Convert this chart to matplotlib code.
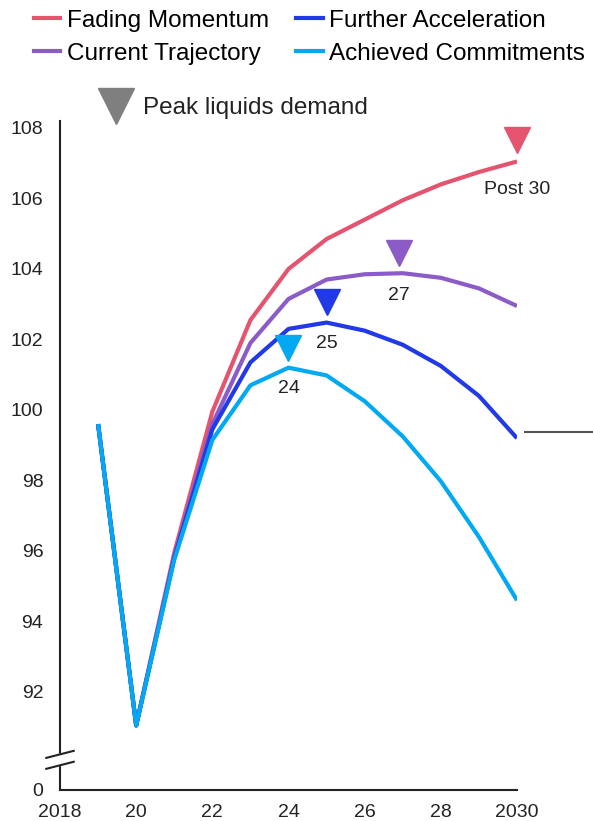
import matplotlib
matplotlib.use("Agg")
from matplotlib import pyplot as plt
from matplotlib.lines import Line2D

plt.rcParams["font.family"] = ["Liberation Sans", "DejaVu Sans"]

years = [2019, 2020, 2021, 2022, 2023, 2024, 2025, 2026, 2027, 2028, 2029, 2030]
fading_momentum = [99.6, 91.05, 95.95, 99.95, 102.55, 104.0, 104.85, 105.4, 105.95, 106.4, 106.75, 107.05]
current_trajectory = [99.6, 91.05, 95.85, 99.6, 101.9, 103.15, 103.7, 103.85, 103.88, 103.75, 103.45, 102.95]
further_acceleration = [99.6, 91.05, 95.8, 99.45, 101.35, 102.3, 102.48, 102.25, 101.85, 101.25, 100.4, 99.2]
achieved_commitments = [99.6, 91.05, 95.75, 99.15, 100.7, 101.2, 100.98, 100.25, 99.25, 97.98, 96.4, 94.6]

series_names = ["Fading Momentum", "Current Trajectory", "Further Acceleration", "Achieved Commitments"]
series_values = [fading_momentum, current_trajectory, further_acceleration, achieved_commitments]
colors = ["#E5546E", "#8B5BC8", "#2139E6", "#00A9F2"]

# peak markers: (year, marker level, label, label level)
peak_years = [2030, 2026.9, 2025, 2024]
peak_levels = [107.65, 104.45, 103.05, 101.75]
peak_labels = ["Post 30", "27", "25", "24"]
peak_label_levels = [106.25, 103.25, 101.9, 100.6]

y_bottom = 89.22
y_ticks = [y_bottom, 92, 94, 96, 98, 100, 102, 104, 106, 108]
y_tick_labels = ["0", "92", "94", "96", "98", "100", "102", "104", "106", "108"]
x_ticks = [2018, 2020, 2022, 2024, 2026, 2028, 2030]
x_tick_labels = ["2018", "20", "22", "24", "26", "28", "2030"]

fig = plt.figure(figsize=(5.93, 8.21), dpi=100)
ax = fig.add_axes([0.1012, 0.0378, 0.7706, 0.8149])

for name, values, color in zip(series_names, series_values, colors):
    ax.plot(years, values, color=color, linewidth=3, label=name, solid_capstyle="butt")

for year, level, label, label_level, color in zip(peak_years, peak_levels, peak_labels, peak_label_levels, colors):
    ax.plot(year, level, marker="v", markersize=19, color=color, linestyle="none", clip_on=False)
    ax.text(year, label_level, label, ha="center", va="center", fontsize=14, color="#222222")

ax.set_xlim(2018, 2030)
ax.set_ylim(y_bottom, 108.2)
ax.set_yticks(y_ticks)
ax.set_yticklabels(y_tick_labels)
ax.set_xticks(x_ticks)
ax.set_xticklabels(x_tick_labels)
ax.tick_params(length=0, labelsize=14, colors="#222222")
ax.tick_params(axis="y", pad=12)
ax.tick_params(axis="x", pad=10)
for side in ["top", "right"]:
    ax.spines[side].set_visible(False)
for side in ["left", "bottom"]:
    ax.spines[side].set_linewidth(1.5)
    ax.spines[side].set_color("#222222")

# axis break marks
brk_a = 90.23
brk_b = 89.92
trans = ax.get_yaxis_transform()
ax.fill([-0.02, 0.02, 0.02, -0.02], [brk_a - 0.1, brk_a + 0.1, brk_b + 0.1, brk_b - 0.1],
        color="white", transform=trans, clip_on=False, zorder=5)
for lvl in [brk_a, brk_b]:
    ax.plot([-0.03, 0.03], [lvl - 0.1, lvl + 0.1], color="#222222", linewidth=1.5,
            transform=trans, clip_on=False, zorder=6)

# leader line on the right
ax.plot([2030.2, 2032.1], [99.38, 99.38], color="#555555", linewidth=1.5, clip_on=False)

handles = [Line2D([0], [0], color=c, linewidth=3) for c in colors]
fig.legend(handles, series_names, loc="upper left", bbox_to_anchor=(0.0405, 1.0), ncol=2,
           frameon=False, fontsize=17.5, handlelength=1.1, handletextpad=0.25,
           columnspacing=1.12, labelspacing=0.45, borderaxespad=0)

fig.lines.append(Line2D([116 / 593], [1 - 106 / 821], marker="v", markersize=26, color="#7F7F7F",
                        transform=fig.transFigure, linestyle="none"))
fig.text(143 / 593, 1 - 108 / 821, "Peak liquids demand", fontsize=17.5, va="center", ha="left",
         color="#222222")

fig.savefig("out.png", dpi=100)
